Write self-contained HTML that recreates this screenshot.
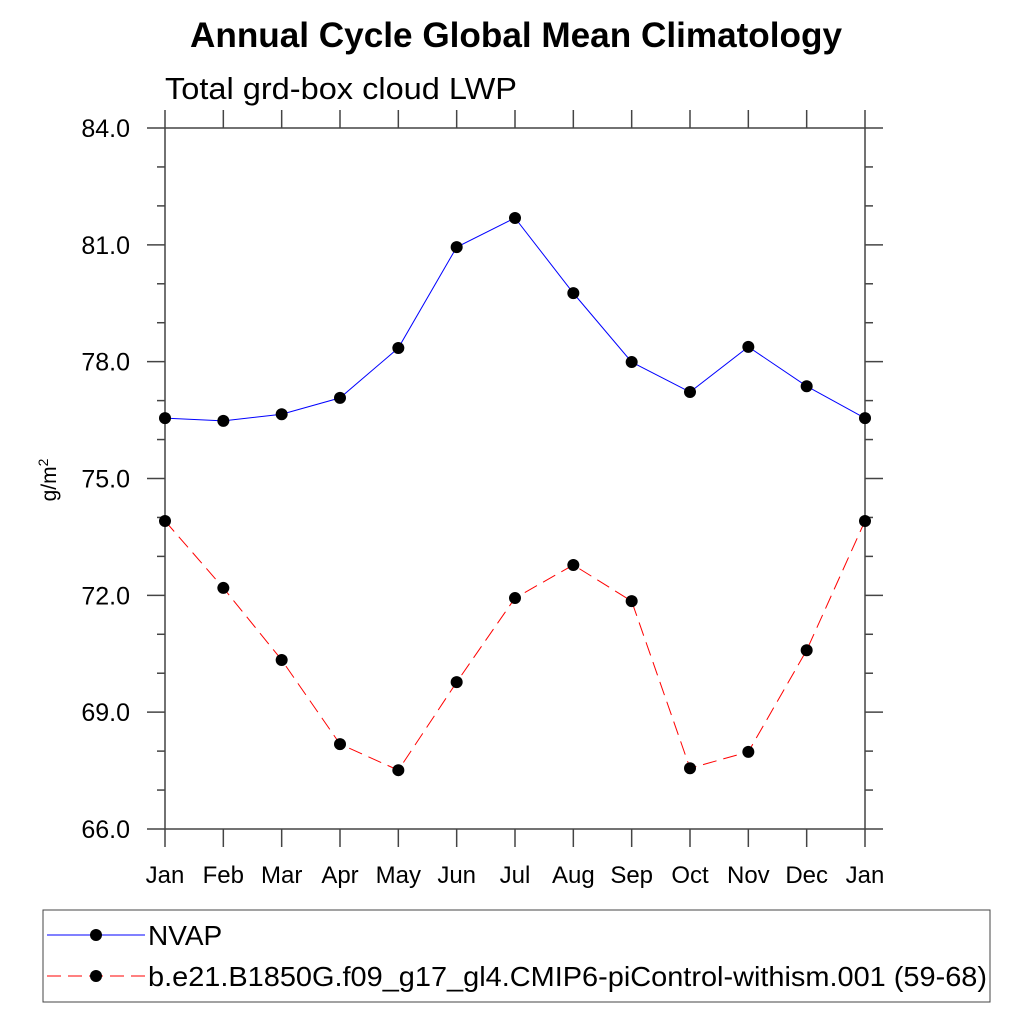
<!DOCTYPE html>
<html><head><meta charset="utf-8"><style>
body{margin:0;background:#fff;}
svg{display:block;font-family:"Liberation Sans",sans-serif;}
</style></head><body>
<svg id="chart" width="1024" height="1024" viewBox="0 0 1024 1024">
<text x="516" y="47" text-anchor="middle" font-size="35" font-weight="bold" textLength="652" lengthAdjust="spacingAndGlyphs">Annual Cycle Global Mean Climatology</text>
<text x="165" y="99" font-size="31" textLength="352" lengthAdjust="spacingAndGlyphs">Total grd-box cloud LWP</text>
<text transform="translate(56,480) rotate(-90)" text-anchor="middle" font-size="21">g/m<tspan dy="-8" font-size="14">2</tspan></text>
<rect x="165" y="128" width="700" height="701" fill="none" stroke="#444" stroke-width="1.5"/>
<g id="axes"></g>
<g id="series"></g>
<rect x="43" y="910" width="947" height="92" fill="none" stroke="#444" stroke-width="1"/>
<g>
<line x1="47" y1="935" x2="145" y2="935" stroke="#0000ff" stroke-width="1"/>
<circle cx="96" cy="935" r="6" fill="#000"/>
<text x="148" y="945" font-size="28">NVAP</text></g>
<g>
<line x1="47" y1="976" x2="145" y2="976" stroke="#ff0000" stroke-width="1" stroke-dasharray="14,7"/>
<circle cx="96" cy="976" r="6" fill="#000"/>
<text x="148" y="986" font-size="28" textLength="839" lengthAdjust="spacingAndGlyphs">b.e21.B1850G.f09_g17_gl4.CMIP6-piControl-withism.001 (59-68)</text></g>
</svg>
<script>
const months=["Jan","Feb","Mar","Apr","May","Jun","Jul","Aug","Sep","Oct","Nov","Dec","Jan"];
const nvap=[76.55,76.48,76.65,77.07,78.35,80.94,81.69,79.76,77.99,77.22,78.38,77.37,76.55];
const model=[73.91,72.19,70.34,68.18,67.51,69.77,71.93,72.78,71.85,67.56,67.98,70.59,73.91];
const yTicks=["66.0","69.0","72.0","75.0","78.0","81.0","84.0"];
const NS="http://www.w3.org/2000/svg";
const X0=165,X1=865,Y0=829,Y1=128,YMIN=66,YMAX=84;
const xs=i=>X0+(X1-X0)*i/(months.length-1);
const ys=v=>Y0-(v-YMIN)/(YMAX-YMIN)*(Y0-Y1);
function mk(t,a,p){const e=document.createElementNS(NS,t);for(const k in a)e.setAttribute(k,a[k]);p.appendChild(e);return e;}
const ax=document.getElementById('axes'),se=document.getElementById('series');
months.forEach((m,i)=>{const x=xs(i);
 mk('line',{x1:x,y1:Y1,x2:x,y2:Y1-18,stroke:'#444','stroke-width':1.5},ax);
 const tk=mk('line',{x1:x,y1:Y0,x2:x,y2:Y0+18,stroke:'#444','stroke-width':1.5},ax);
 
 
 const t=mk('text',{x:x,y:883,'text-anchor':'middle','font-size':24},ax);t.textContent=m;
 
 
});
for(let v=YMIN;v<=YMAX;v+=1){const y=ys(v);const major=(v-YMIN)%3===0;const L=major?18:8;
 mk('line',{x1:X0,y1:y,x2:X0-L,y2:y,stroke:'#444','stroke-width':1.5},ax);
 mk('line',{x1:X1,y1:y,x2:X1+L,y2:y,stroke:'#444','stroke-width':1.5},ax);}
yTicks.forEach(s=>{const y=ys(parseFloat(s));const t=mk('text',{x:130,y:y+9,'text-anchor':'end','font-size':25},ax);t.textContent=s;
 
 });
function draw(vals,color,dash,name){
 const pts=vals.map((v,i)=>xs(i)+","+ys(v)).join(" ");
 const pl=mk('polyline',{points:pts,fill:'none',stroke:color,'stroke-width':1,'stroke-dasharray':dash},se);
 
 
 vals.forEach((v,i)=>{const c=mk('circle',{cx:xs(i),cy:ys(v),r:6,fill:'#000'},se);
  
  });
}
draw(nvap,'#0000ff','none','nvap');
draw(model,'#ff0000','14,7','model');
</script>
</body></html>
